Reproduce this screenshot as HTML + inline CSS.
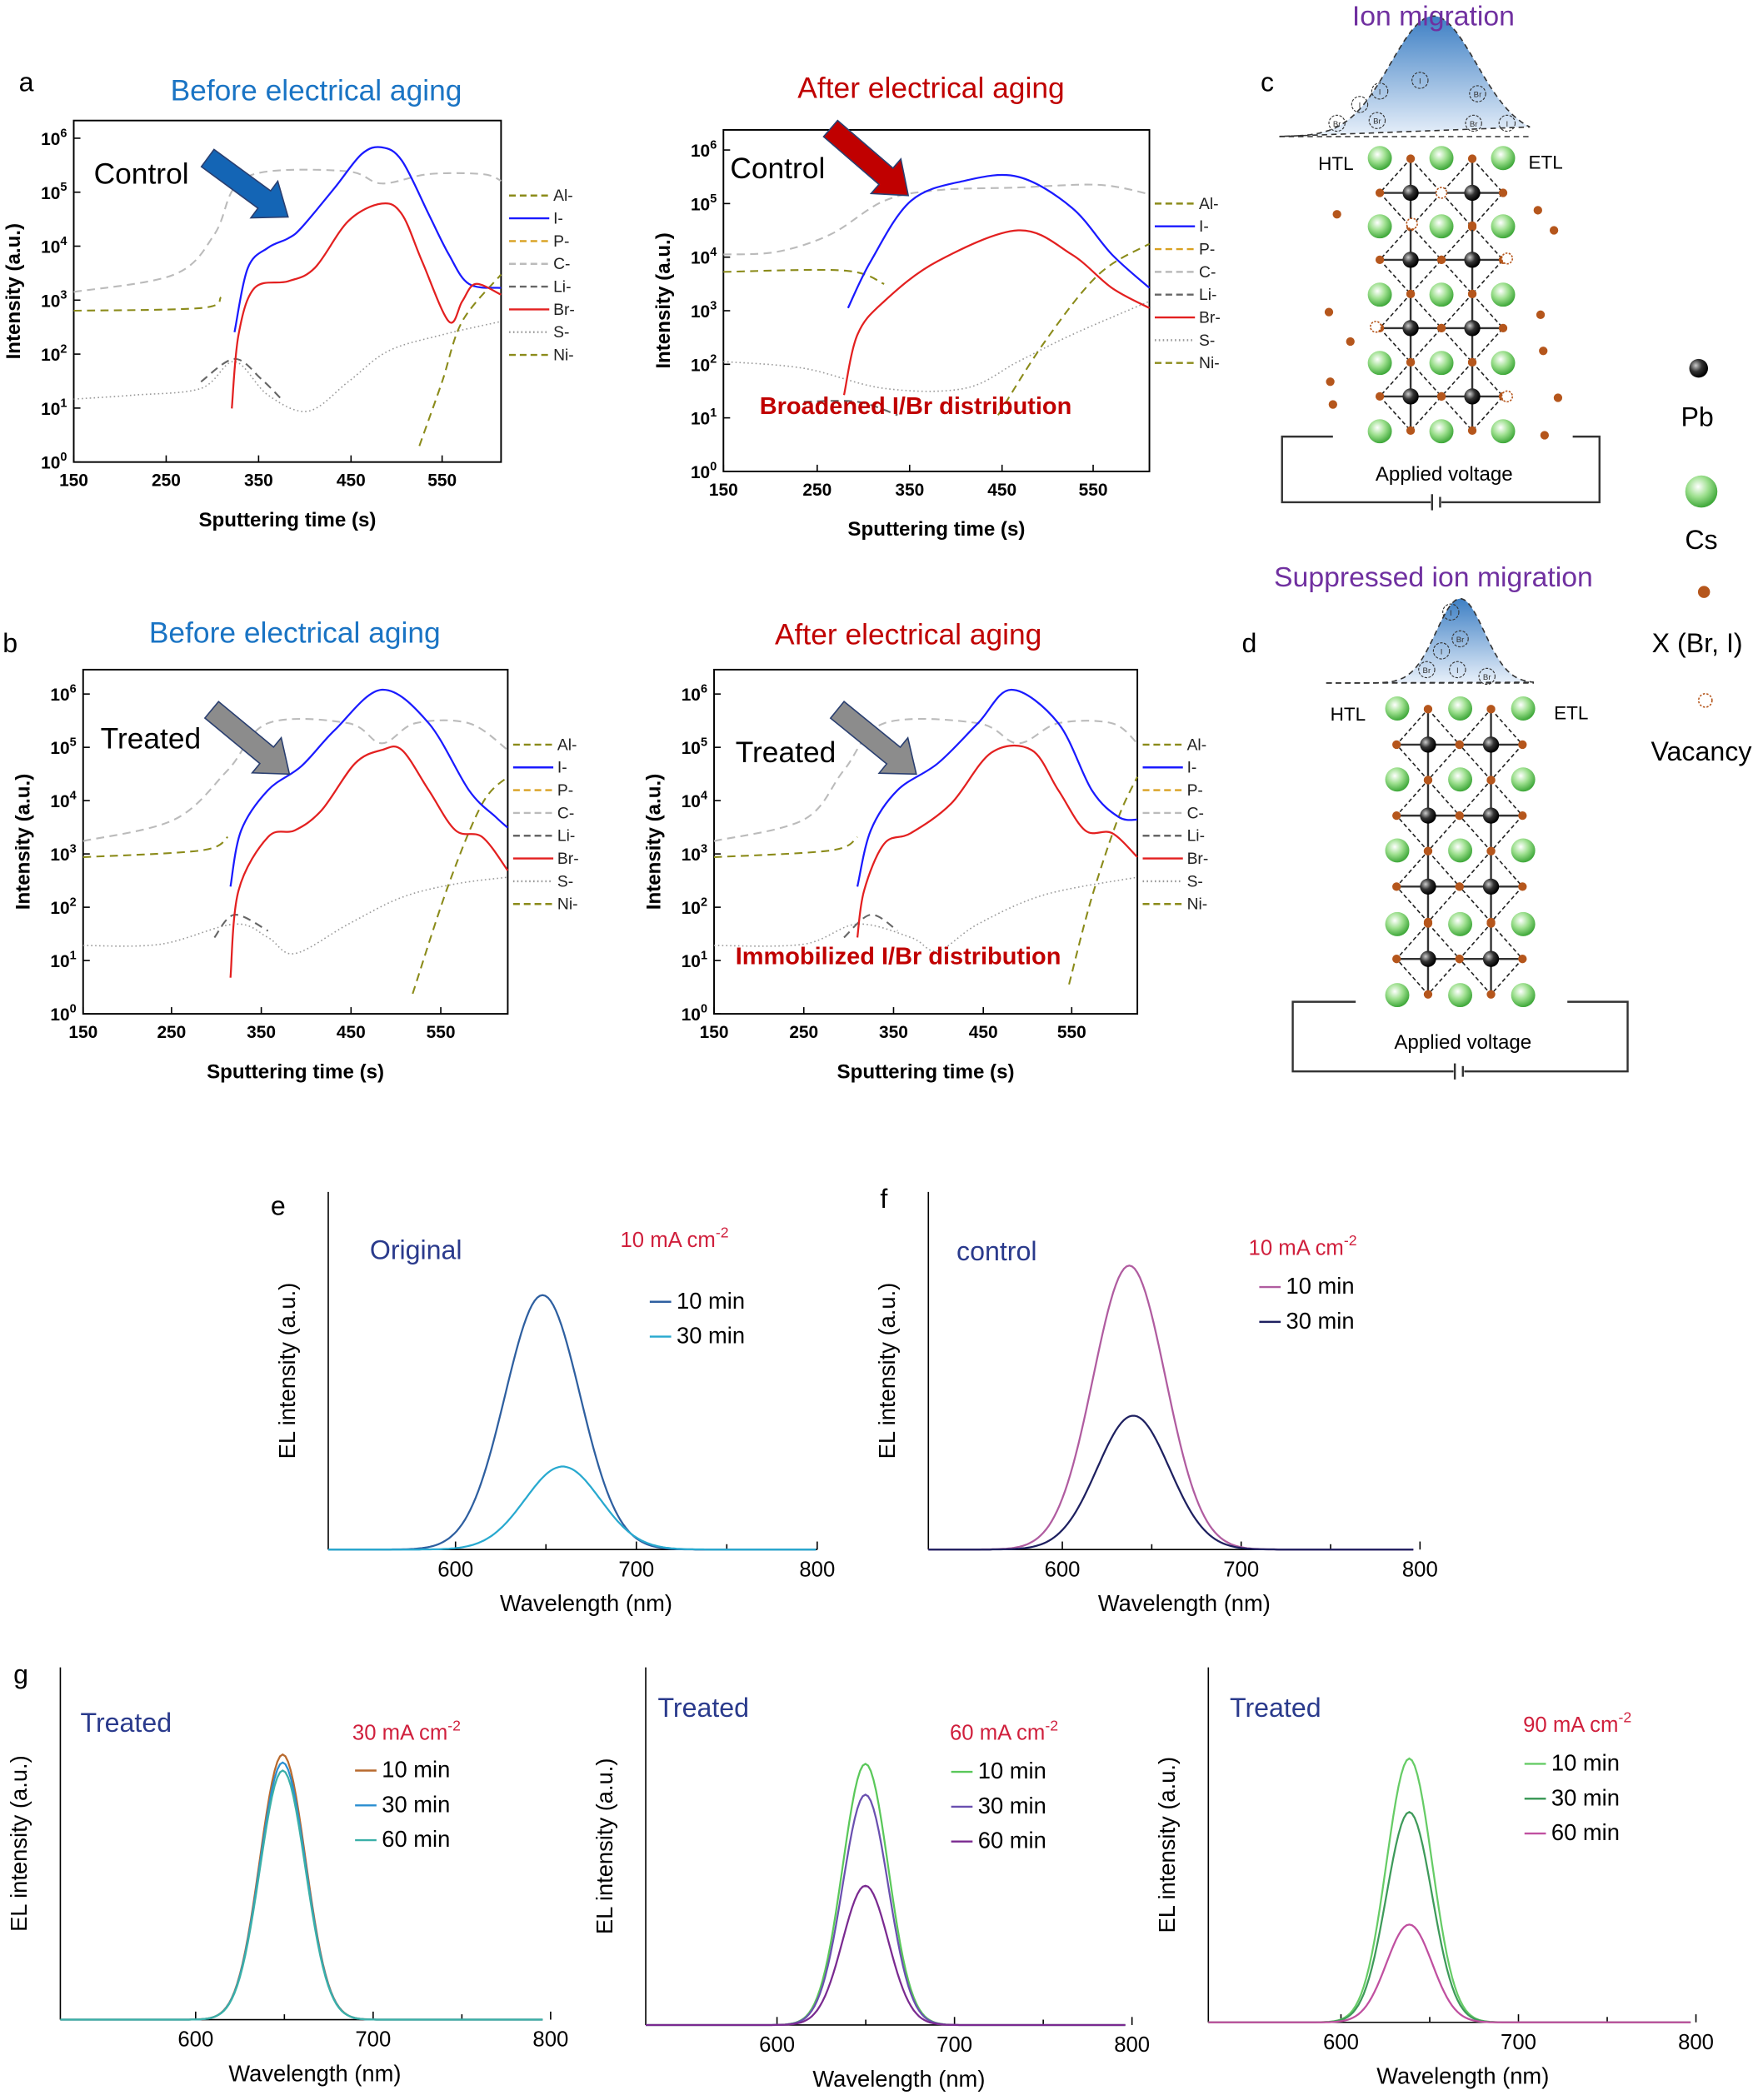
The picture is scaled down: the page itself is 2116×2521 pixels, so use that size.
<!DOCTYPE html>
<html><head><meta charset="utf-8"><style>
html,body{margin:0;padding:0;background:#fff}
svg{display:block}
text{font-family:"Liberation Sans",Arial,sans-serif}
</style></head><body>
<svg id="s" width="2116" height="2521" viewBox="0 0 1316 1568" xmlns="http://www.w3.org/2000/svg">
<rect width="1316" height="1568" fill="#fff"/>
<g id="g"></g>
</svg>
<script>
const G=document.getElementById('g');let H='';
function add(s){H+=s;}
function smooth(p){let d='M'+p[0][0]+','+p[0][1];for(let i=0;i<p.length-1;i++){const p0=p[i-1]||p[i],p1=p[i],p2=p[i+1],p3=p[i+2]||p2;
const c1=[p1[0]+(p2[0]-p0[0])/6,p1[1]+(p2[1]-p0[1])/6],c2=[p2[0]-(p3[0]-p1[0])/6,p2[1]-(p3[1]-p1[1])/6];
d+=`C${c1[0].toFixed(1)},${c1[1].toFixed(1)} ${c2[0].toFixed(1)},${c2[1].toFixed(1)} ${p2[0]},${p2[1]}`;}return d;}
function cur(p,col,w,dash){add(`<path d="${smooth(p)}" fill="none" stroke="${col}" stroke-width="${w}" ${dash?`stroke-dasharray="${dash}"`:''}/>`);}
function T(x,y,t,sz,col,opt){add(`<text x="${x}" y="${y}" font-size="${sz}" fill="${col||'#000'}" ${opt||''}>${t}</text>`);}
const OL='#8b8b1a',GR='#bbb',DG='#666',SG='#999';
function tof(box,xt,yt,dec,legX,legY){
 const [x0,y0,x1,y1]=box;add(`<rect x="${x0}" y="${y0}" width="${x1-x0}" height="${y1-y0}" fill="none" stroke="#000" stroke-width="1.2"/>`);
 for(let i=0;i<=6;i++){const y=y1-i*dec;add(`<line x1="${x0}" y1="${y}" x2="${x0+5}" y2="${y}" stroke="#000"/>`);T(x0-5,y+5,`10<tspan font-size="9" dy="-6">${i}</tspan>`,13,'#000','text-anchor="end" font-weight="bold"');}
 const labs=[150,250,350,450,550];xt.forEach((x,i)=>{add(`<line x1="${x}" y1="${y1}" x2="${x}" y2="${y1-5}" stroke="#000"/>`);T(x,y1+18,labs[i],13,'#000','text-anchor="middle" font-weight="bold"');});
 T((x0+x1)/2,y1+48,'Sputtering time (s)',15,'#000','text-anchor="middle" font-weight="bold"');
 add(`<text transform="translate(${x0-40},${(y0+y1)/2}) rotate(-90)" font-size="15" font-weight="bold" text-anchor="middle">Intensity (a.u.)</text>`);
 const L=[['Al-',OL,'5,3'],['I-','#1a1aff',''],['P-','#d9a020','5,3'],['C-',GR,'5,3'],['Li-',DG,'5,3'],['Br-','#e32020',''],['S-',SG,'1,2'],['Ni-',OL,'5,3']];
 L.forEach((l,i)=>{const y=legY+i*17;add(`<line x1="${legX}" y1="${y}" x2="${legX+30}" y2="${y}" stroke="${l[1]}" stroke-width="1.5" ${l[2]?`stroke-dasharray="${l[2]}"`:''}/>`);T(legX+33,y+4,l[0],12,'#222');});
}
tof([55,90,374,345],[55,124,193,262,330],0,40.3,380,146);
cur([[55,218],[130,205],[160,175],[175,140],[200,128],[260,128],[285,137],[320,130],[360,130],[374,135]],GR,1.3,'6,4');
cur([[55,232],[150,230],[165,222]],OL,1.3,'6,4');
cur([[55,298],[100,295],[150,290],[175,270],[200,295],[230,307],[260,285],[290,262],[330,250],[374,240]],SG,1,'1,2');
cur([[150,285],[175,268],[195,283],[210,298]],DG,1.3,'6,4');
cur([[313,333],[330,285],[345,240],[374,205]],OL,1.3,'6,4');
cur([[175,248],[185,200],[200,185],[215,178],[225,170],[250,140],[270,115],[285,110],[300,120],[320,160],[335,190],[350,212],[374,215]],'#1a1aff',1.4);
cur([[173,305],[178,250],[190,215],[215,210],[235,200],[260,165],[285,152],[300,160],[315,195],[335,240],[345,225],[355,212],[374,220]],'#e32020',1.4);
tof([540,97,858,352],[540,610,679,748,816],0,40,862,152);
cur([[540,190],[580,188],[620,175],[660,150],[700,142],[760,140],[820,138],[858,145]],GR,1.3,'6,4');
cur([[540,203],[630,202],[660,212]],OL,1.3,'6,4');
cur([[540,270],[600,275],[660,290],[720,290],[760,270],[800,250],[858,225]],SG,1,'1,2');
cur([[600,300],[640,300],[670,310]],DG,1.3,'6,4');
cur([[745,310],[780,255],[820,205],[858,182]],OL,1.3,'6,4');
cur([[633,230],[650,195],[680,150],[720,135],[760,132],[800,155],[830,190],[858,215]],'#1a1aff',1.4);
cur([[630,295],[640,250],[660,225],[700,195],[760,172],[800,190],[830,215],[858,230]],'#e32020',1.4);
tof([62,500,379,757],[62,128,195,262,329],0,39.8,383,556);
cur([[62,628],[130,612],[170,575],[200,540],[260,540],[285,555],[310,540],[350,540],[379,560]],GR,1.3,'6,4');
cur([[62,640],[150,635],[170,625]],OL,1.3,'6,4');
cur([[62,706],[120,705],[175,690],[200,700],[220,712],[260,690],[300,670],[340,660],[379,655]],SG,1,'1,2');
cur([[160,700],[175,683],[200,695]],DG,1.3,'6,4');
cur([[308,742],[335,660],[360,600],[379,580]],OL,1.3,'6,4');
cur([[172,662],[180,620],[200,590],[225,572],[250,545],[285,515],[320,540],[350,590],[370,610],[379,618]],'#1a1aff',1.4);
cur([[172,730],[178,665],[200,625],[220,620],[240,605],[265,570],[285,560],[300,560],[320,590],[340,620],[360,625],[379,650]],'#e32020',1.4);
tof([533,500,849,757],[533,600,667,734,800],0,39.8,853,556);
cur([[533,628],[600,612],[630,575],[660,540],[730,540],[760,555],[790,540],[830,540],[849,555]],GR,1.3,'6,4');
cur([[533,640],[620,635],[640,625]],OL,1.3,'6,4');
cur([[533,706],[600,705],[640,690],[680,700],[700,710],[730,690],[780,668],[849,655]],SG,1,'1,2');
cur([[630,700],[650,683],[670,695]],DG,1.3,'6,4');
cur([[798,735],[815,670],[835,610],[849,580]],OL,1.3,'6,4');
cur([[640,662],[650,620],[670,590],[700,570],[730,540],[755,515],[790,540],[815,590],[835,610],[849,612]],'#1a1aff',1.4);
cur([[640,700],[645,665],[660,630],[680,622],[710,600],[740,562],[770,560],[790,590],[810,620],[830,622],[849,640]],'#e32020',1.4);
function arrow(x1,y1,x2,y2,col){const a=Math.atan2(y2-y1,x2-x1),L=Math.hypot(x2-x1,y2-y1);
add(`<g transform="translate(${x1},${y1}) rotate(${a*180/Math.PI})"><polygon points="0,-8 ${L-22},-8 ${L-22},-17 ${L},0 ${L-22},17 ${L-22},8 0,8" fill="${col}" stroke="#2a3f70" stroke-width="1"/></g>`);}
arrow(155,118,215,162,'#1465b5');arrow(620,96,678,146,'#c00000');arrow(158,530,216,578,'#8c8c8c');arrow(625,530,684,578,'#8c8c8c');
T(236,75,'Before electrical aging',22,'#1a74c4','text-anchor="middle"');
T(695,73,'After electrical aging',22,'#c00000','text-anchor="middle"');
T(220,480,'Before electrical aging',22,'#1a74c4','text-anchor="middle"');
T(678,481,'After electrical aging',22,'#c00000','text-anchor="middle"');
T(70,137,'Control',22);T(545,133,'Control',22);T(75,559,'Treated',22);T(549,569,'Treated',22);
T(567,309,'Broadened I/Br distribution',18,'#c00000','font-weight="bold"');
T(549,720,'Immobilized  I/Br distribution',18,'#c00000','font-weight="bold"');
T(14,68,'a',20);T(941,68,'c',20);T(2,487,'b',20);T(927,487,'d',20);T(202,907,'e',20);T(657,902,'f',20);T(10,1257,'g',20);
add(`<defs><radialGradient id="cs" cx="40%" cy="35%" r="65%"><stop offset="0" stop-color="#fff"/><stop offset="0.5" stop-color="#9ee08f"/><stop offset="1" stop-color="#3fa83a"/></radialGradient>
<radialGradient id="pb" cx="35%" cy="35%" r="65%"><stop offset="0" stop-color="#ccc"/><stop offset="0.5" stop-color="#333"/><stop offset="1" stop-color="#000"/></radialGradient>
<linearGradient id="bl" x1="0" y1="0" x2="0" y2="1"><stop offset="0" stop-color="#3d7fc4"/><stop offset="1" stop-color="#e8f0fa"/></linearGradient></defs>`);
function lattice(cx,rows,pbx,pby){
 pby.forEach(y=>pbx.forEach(x=>{const h=(rows[1]-rows[0])/2,w=(cx[1]-cx[0])/2;
  add(`<polygon points="${x},${y-h} ${x+w},${y} ${x},${y+h} ${x-w},${y}" fill="none" stroke="#222" stroke-dasharray="3,2"/>`);
  add(`<line x1="${x-w}" y1="${y}" x2="${x+w}" y2="${y}" stroke="#333" stroke-width="1.5"/><line x1="${x}" y1="${y-h}" x2="${x}" y2="${y+h}" stroke="#333" stroke-width="1.5"/>`);
  [[x-w,y],[x+w,y],[x,y-h],[x,y+h]].forEach(p=>add(`<circle cx="${p[0]}" cy="${p[1]}" r="3.2" fill="#b5561c"/>`));
  add(`<circle cx="${x}" cy="${y}" r="6" fill="url(#pb)"/>`);}));
 rows.forEach(y=>cx.forEach(x=>add(`<circle cx="${x}" cy="${y}" r="9" fill="url(#cs)"/>`)));}
lattice([1030,1076,1122],[118,169,220,271,322],[1053,1099],[144,194,245,296]);
lattice([1043,1090,1137],[529,582,635,690,743],[1066,1113],[556,609,662,716]);
function bell(xa,xb,c,top,base,sig){let d='';for(let x=xa;x<=xb;x+=1){const y=base-(base-top)*Math.exp(-Math.pow((x-c)/sig,2)/2);d+=(d?'L':'M')+x+','+y.toFixed(1);}
 add(`<path d="${d} Z" fill="url(#bl)" stroke="#333" stroke-dasharray="4,3"/><line x1="${xa}" y1="${base}" x2="${xb}" y2="${base}" stroke="#333" stroke-dasharray="4,3"/>`);}
bell(955,1142,1070,12,102,32);
bell(990,1145,1090,447,510,18);
[[998,92,'Br'],[1015,78,'I'],[1030,68,'I'],[1028,90,'Br'],[1060,60,'I'],[1103,70,'Br'],[1100,92,'Br'],[1125,92,'I'],[1083,457,'I'],[1090,477,'Br'],[1076,486,'I'],[1065,500,'Br'],[1088,500,'I'],[1110,505,'Br']].forEach(b=>{add(`<circle cx="${b[0]}" cy="${b[1]}" r="6" fill="none" stroke="#333" stroke-dasharray="2,1" stroke-width="0.7"/>`);T(b[0],b[1]+2.5,b[2],6,'#333','text-anchor="middle"');});
[[998,160],[1148,157],[1160,172],[992,233],[1150,235],[993,285],[1152,262],[1163,297],[1153,325],[995,302],[1008,255]].forEach(p=>add(`<circle cx="${p[0]}" cy="${p[1]}" r="3.2" fill="#b5561c"/>`));
[[1054,167],[1125,193],[1027,244],[1125,296],[1076,144]].forEach(p=>add(`<circle cx="${p[0]}" cy="${p[1]}" r="4" fill="#fff" stroke="#b5561c" stroke-dasharray="1.5,1"/>`));
T(984,127,'HTL',14);T(1141,126,'ETL',14);T(993,538,'HTL',14);T(1160,537,'ETL',14);
add(`<path d="M995,326 H957 V375 H1068 M1076,375 H1194 V326 H1174" fill="none" stroke="#333" stroke-width="1.5"/><line x1="1069" y1="369" x2="1069" y2="381" stroke="#333" stroke-width="1.5"/><line x1="1075" y1="371" x2="1075" y2="379" stroke="#333" stroke-width="1.5"/>`);
add(`<path d="M1012,748 H965 V800 H1085 M1093,800 H1215 V748 H1170" fill="none" stroke="#333" stroke-width="1.5"/><line x1="1086" y1="794" x2="1086" y2="806" stroke="#333" stroke-width="1.5"/><line x1="1092" y1="796" x2="1092" y2="804" stroke="#333" stroke-width="1.5"/>`);
T(1078,359,'Applied voltage',15,'#000','text-anchor="middle"');T(1092,783,'Applied voltage',15,'#000','text-anchor="middle"');
T(1070,19,'Ion migration',21,'#7030a0','text-anchor="middle"');T(1070,438,'Suppressed ion migration',21,'#7030a0','text-anchor="middle"');
add(`<circle cx="1268" cy="275" r="7" fill="url(#pb)"/><circle cx="1270" cy="367" r="12" fill="url(#cs)"/><circle cx="1272" cy="442" r="4.5" fill="#b5561c"/><circle cx="1273" cy="523" r="5" fill="none" stroke="#b5561c" stroke-dasharray="1.5,1.2"/>`);
T(1267,318,'Pb',20,'#000','text-anchor="middle"');T(1270,410,'Cs',20,'#000','text-anchor="middle"');T(1267,487,'X (Br, I)',20,'#000','text-anchor="middle"');T(1270,568,'Vacancy',20,'#000','text-anchor="middle"');
function el(x0,x1,top,bot,t600,t800,curves,sig,lab,ma,legX,legY,legSp,lx,ly,mx,my){
 add(`<line x1="${x0}" y1="${top}" x2="${x0}" y2="${bot}" stroke="#000"/><line x1="${x0}" y1="${bot}" x2="${x1}" y2="${bot}" stroke="#000"/>`);
 const s=(t800-t600)/200;[600,650,700,750,800].forEach(v=>{const x=t600+(v-600)*s;if(x<=x1+6){add(`<line x1="${x}" y1="${bot}" x2="${x}" y2="${bot-(v%100?4:6)}" stroke="#000"/>`);}
  if(v%100==0)T(x,bot+20,v,16,'#000','text-anchor="middle"');});
 T((x0+x1)/2+10,bot+46,'Wavelength (nm)',17,'#000','text-anchor="middle"');
 add(`<text transform="translate(${x0-25},${(top+bot)/2}) rotate(-90)" font-size="17" text-anchor="middle">EL intensity (a.u.)</text>`);
 curves.forEach(c=>{let d='';for(let x=x0;x<=x1;x+=2){const y=bot-c.h*Math.exp(-Math.pow((x-c.c)/sig,2)/2);d+=(d?'L':'M')+x+','+y.toFixed(1);}add(`<path d="${d}" fill="none" stroke="${c.col}" stroke-width="1.4"/>`);});
 T(lx,ly,lab,20,'#2a3a8c');T(mx,my,`${ma} mA cm<tspan font-size="11" dy="-7">-2</tspan>`,16,'#d01f3c');
 curves.forEach((c,i)=>{const y=legY+i*legSp;add(`<line x1="${legX}" y1="${y-5}" x2="${legX+16}" y2="${y-5}" stroke="${c.col}" stroke-width="1.5"/>`);T(legX+20,y,c.t,17);});
}
el(245,610,890,1157,340,610,[{c:405,h:190,col:'#2e5fa0',t:'10 min'},{c:420,h:62,col:'#28a9cf',t:'30 min'}],28,'Original',10,485,977,26,276,940,463,931);
el(693,1055,890,1157,793,1060,[{c:843,h:212,col:'#b05ca0',t:'10 min'},{c:846,h:100,col:'#1e2060',t:'30 min'}],27,'control',10,940,966,26,714,941,932,937);
el(45,405,1245,1508,146,411,[{c:211,h:198,col:'#b86a2e',t:'10 min'},{c:211,h:192,col:'#2a8ed0',t:'30 min'},{c:211,h:186,col:'#3bb0a8',t:'60 min'}],17,'Treated',30,265,1327,26,60,1293,263,1299);
el(482,840,1245,1512,580,845,[{c:646,h:195,col:'#5ac85a',t:'10 min'},{c:646,h:172,col:'#6a50b0',t:'30 min'},{c:646,h:104,col:'#7a2a90',t:'60 min'}],17,'Treated',60,710,1328,26,491,1282,709,1299);
el(902,1262,1245,1510,1001,1266,[{c:1052,h:197,col:'#66cc66',t:'10 min'},{c:1052,h:157,col:'#3e9a5a',t:'30 min'},{c:1052,h:73,col:'#c050a0',t:'60 min'}],17,'Treated',90,1138,1322,26,918,1282,1137,1293);
G.innerHTML=H;
</script>
</body></html>
